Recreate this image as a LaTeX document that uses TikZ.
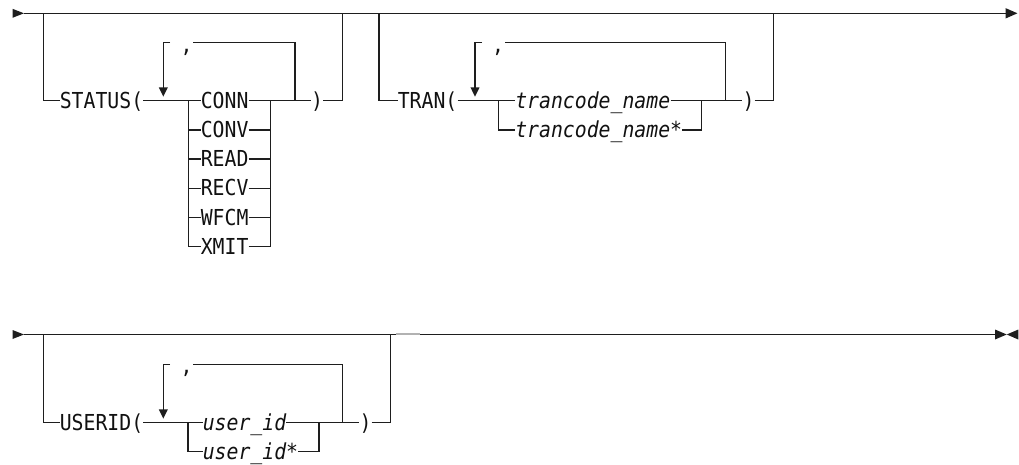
\documentclass[tikz,border=0pt]{standalone}
\usepackage{fontspec}
\usepackage{tikz}
\usetikzlibrary{arrows.meta}
\newfontfamily\railfont{DejaVu Sans Mono}[FakeStretch=0.9]
\definecolor{rline}{HTML}{1E1E1E}
\definecolor{rtext}{HTML}{111111}

\tikzset{
  rail/.style={draw=rline, line width=1.15pt},
  kw/.style={font=\railfont\fontsize{16.5pt}{18pt}\selectfont, text=rtext,
    inner xsep=0pt, inner ysep=0pt, text height=11.4pt, text depth=0pt, anchor=west},
  var/.style={kw, font=\railfont\itshape\fontsize{16.5pt}{18pt}\selectfont},
  looptip/.style={-{Triangle[length=7pt,width=6.5pt]}},
  endtip/.style={-{Triangle[length=9pt,width=7.5pt]}}
}

\begin{document}
\begin{tikzpicture}[x=0.75pt, y=-0.75pt]
\useasboundingbox (0,0) rectangle (1019,464);

% first line
\fill[rline] (12.5,8.8) -- (24,13.3) -- (12.5,17.8) -- cycle;
\coordinate (r1s) at (24,13.3);
\coordinate (r1e) at (1017.5,13.3);
\draw[rail, endtip] (r1s) -- (r1e);

% STATUS(...)
\coordinate (a1) at (43.3,13.3);
\coordinate (a2) at (342.3,13.3);
\node[kw] (status) at (59.5,100.7) {STATUS(};
\draw[rail] (a1) |- (status.west);
\coordinate (sL) at (188.3,100.7);
\coordinate (sR) at (270.7,100.7);
\coordinate (sLoopR) at (295,100.7);
\node[kw, anchor=center] (srp) at (317,100.7) {)};
\draw[rail] (status.east) -- (sL);
\foreach \opt/\y in {CONN/100.7, CONV/129.9, READ/159.1, RECV/188.3, WFCM/217.5, XMIT/246.7} {
  \node[kw] (s-\opt) at (200.5,\y) {\opt};
  \draw[rail] (188.3,\y) -- (s-\opt.west) (s-\opt.east) -- (270.7,\y);
}
\draw[rail] (sL) -- (188.3,246.7);
\draw[rail] (sR) -- (270.7,246.7);
\draw[rail] (sR) -- (srp.west);
\draw[rail] (srp.east) -| (a2);
% repeat loop
\node[kw, anchor=center] (scomma) at (186.5,44.4) {,};
\draw[rail] (sLoopR) |- (193,42.7);
\draw[rail, looptip] (170,42.7) -| (163.3,96.7);

% TRAN(...)
\coordinate (b1) at (379,13.3);
\coordinate (b2) at (773.3,13.3);
\node[kw] (tran) at (397.5,100.7) {TRAN(};
\draw[rail] (b1) |- (tran.west);
\coordinate (tL) at (498.3,100.7);
\coordinate (tR) at (701.7,100.7);
\coordinate (tLoopR) at (725.7,100.7);
\node[kw, anchor=center] (trp) at (748.5,100.7) {)};
\draw[rail] (tran.east) -- (tL);
\node[var] (t-name) at (515,100.7) {trancode\_name};
\node[var] (t-wild) at (515,130) {trancode\_name*};
\draw[rail] (tL) |- (t-wild.west);
\draw[rail] (tL) -- (t-name.west);
\draw[rail] (t-name.east) -- (tR);
\draw[rail] (t-wild.east) -| (tR);
\draw[rail] (tR) -- (trp.west);
\draw[rail] (trp.east) -| (b2);
\node[kw, anchor=center] (tcomma) at (498.2,44.4) {,};
\draw[rail] (tLoopR) |- (505,42.7);
\draw[rail, looptip] (482,42.7) -| (475,96.7);

% second line
\fill[rline] (12.5,330) -- (24,334.5) -- (12.5,339) -- cycle;
\coordinate (r2s) at (24,334.5);
\coordinate (r2e) at (995,334.5);
\draw[rail] (r2s) -- (r2e);
\fill[rline] (995,329.5) -- (1006.7,334.5) -- (995,339.5) -- cycle;
\fill[rline] (1018.3,329.5) -- (1006.7,334.5) -- (1018.3,339.5) -- cycle;

% USERID(...)
\coordinate (c1) at (43.3,334.5);
\coordinate (c2) at (390.7,334.5);
\node[kw] (userid) at (59.5,422.7) {USERID(};
\draw[rail] (c1) |- (userid.west);
\coordinate (uL) at (188,422.7);
\coordinate (uR) at (319,422.7);
\coordinate (uLoopR) at (342.7,422.7);
\node[kw, anchor=center] (urp) at (365.5,422.7) {)};
\draw[rail] (userid.east) -- (uL);
\node[var] (u-name) at (202.5,422.7) {user\_id};
\node[var] (u-wild) at (202.5,451.7) {user\_id*};
\draw[rail] (uL) |- (u-wild.west);
\draw[rail] (uL) -- (u-name.west);
\draw[rail] (u-name.east) -- (uR);
\draw[rail] (u-wild.east) -| (uR);
\draw[rail] (uR) -- (urp.west);
\draw[rail] (urp.east) -| (c2);
\node[kw, anchor=center] (ucomma) at (186.5,366) {,};
\draw[rail] (uLoopR) |- (193,364.3);
\draw[rail, looptip] (170,364.3) -| (163.3,418.7);
\draw[gray!60, line width=1.4pt] (396,334.2) -- (420,334.2);
\end{tikzpicture}
\end{document}
